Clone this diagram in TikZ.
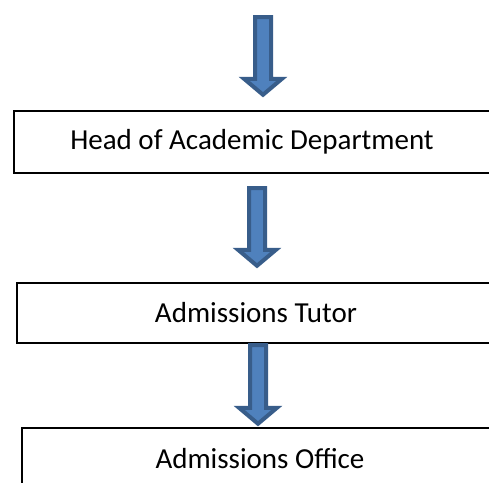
\documentclass[tikz,border=0pt]{standalone}
\usepackage{fontspec}
\setmainfont{Carlito}
\usepackage{tikz}
\usetikzlibrary{calc}
\usepackage{xcolor}
\definecolor{arrowfill}{HTML}{4F81BD}
\definecolor{arrowedge}{HTML}{385D8A}

\begin{document}
\begin{tikzpicture}[x=1pt,y=-1pt]
\tikzstyle{stage} =[draw, line width=1.5pt, inner sep=0pt, minimum width=520pt, minimum height=62pt, anchor=west]
\tikzstyle{caption} =[inner sep=0pt, font=\fontsize{29}{34}\selectfont]
\tikzstyle{blockarrow} =[draw=arrowedge, fill=arrowfill, line width=4pt, to path={let \p1=(\tikztostart), \p2=(\tikztotarget) in (\x1-8,\y1) -- (\x1+8,\y1) -- (\x1+8,\y2+16) -- (\x1+19,\y2+16) -- (\x1,\y2) -- (\x1-19,\y2+16) -- (\x1-8,\y2+16) -- cycle}]

\useasboundingbox (0,0) rectangle (489,482);
\clip (0,0) rectangle (489,482);
\fill[white] (0,0) rectangle (489,482);

\node[stage](head) at (13,142){};
\node[stage, minimum height=60pt](tutor) at (16,313){};
\node[stage](office) at (21,459){};

\node[caption](headtext) at (252,142){Head of Academic Department};
\node[caption](tutortext) at (256,313){Admissions Tutor};
\node[caption](officetext) at (260,459){Admissions Office};

\coordinate (in) at (263,17);

\draw [blockarrow] (in) to ($(head.north)+(0,-15.5)$);
\draw [blockarrow] (257,188) to ($(tutor.north)+(0,-16.5)$);
\draw [blockarrow] (258,345) to ($(office.north)+(0,-3.5)$);
\end{tikzpicture}
\end{document}
